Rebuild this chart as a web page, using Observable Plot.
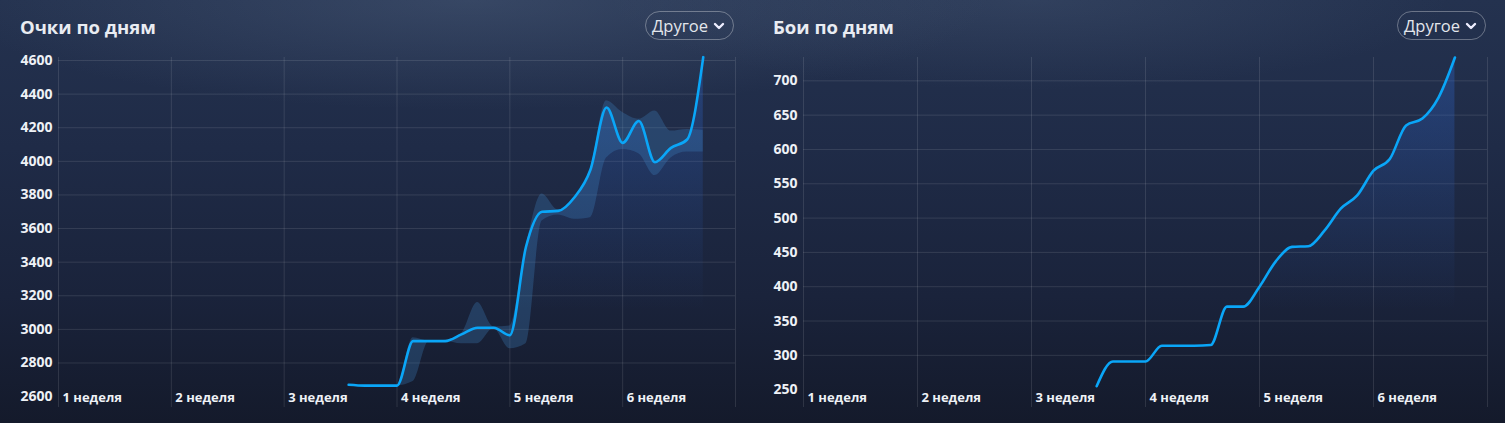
<!DOCTYPE html>
<html><head><meta charset="utf-8">
<script src="https://cdn.jsdelivr.net/npm/d3@7"></script>
<script src="https://cdn.jsdelivr.net/npm/@observablehq/plot@0.6"></script>
<style>
html,body{margin:0;padding:0;width:1505px;height:423px;overflow:hidden;}
body{position:relative;font-family:"Open Sans",sans-serif;
background:
 radial-gradient(ellipse 520px 110px at 470px 0px, rgba(95,115,145,0.32), rgba(95,115,145,0) 100%),
 radial-gradient(ellipse 420px 90px at 1030px 0px, rgba(95,115,145,0.22), rgba(95,115,145,0) 100%),
 linear-gradient(180deg,#24324f 0%,#1f2b47 35%,#1a233b 70%,#141a2b 100%);}
.title{position:absolute;top:14px;font-weight:700;font-size:18.5px;line-height:26px;color:#e9ecf2;}
.dd{position:absolute;top:11px;height:29px;width:89px;border:1px solid rgba(255,255,255,0.32);border-radius:15px;box-sizing:border-box;color:#e3e6ec;font-size:16.5px;display:flex;align-items:center;padding-left:6px;gap:5px;}
.chart{position:absolute;top:0;}
</style></head>
<body>
<div class="title" style="left:20px">Очки по дням</div>
<div class="dd" style="left:645px"><span>Другое</span><svg width="12" height="8" viewBox="0 0 12 8"><path d="M2 2 L6 6 L10 2" stroke="#eef" stroke-width="2.4" fill="none" stroke-linecap="round" stroke-linejoin="round"/></svg></div>
<div class="title" style="left:773px">Бои по дням</div>
<div class="dd" style="left:1397px"><span>Другое</span><svg width="12" height="8" viewBox="0 0 12 8"><path d="M2 2 L6 6 L10 2" stroke="#eef" stroke-width="2.4" fill="none" stroke-linecap="round" stroke-linejoin="round"/></svg></div>
<div id="left" class="chart" style="left:0px"></div>
<div id="right" class="chart" style="left:750px"></div>
<script>
// Days (day index from start of week 1)
const days = [18,19,20,21,22,23,24,25,26,27,28,29,30,31,32,33,34,35,36,37,38,39,40];
// Points per day
const points = [2670,2665,2665,2665,2930,2930,2930,2970,3010,3010,2965,3490,3700,3705,3785,3950,4320,4110,4240,3995,4080,4130,4620];
const pointsBandLow = [2670,2665,2665,2665,2690,2930,2930,2915,2915,3005,2885,2915,3645,3680,3655,3665,4020,4070,4045,3915,4020,4055,4055];
const pointsBandHigh = [2670,2665,2665,2665,2950,2930,2935,2975,3160,3015,3020,3490,3805,3710,3785,3950,4360,4290,4250,4300,4180,4190,4185];
// Battles per day
const battles = [255,291,291,291,314,314,314,315,371,371,400,437,458,459,482,514,533,569,586,635,645,676,734];

const weekStarts = [0,7,14,21,28,35,42];
const weekLabels = ["1 неделя","2 неделя","3 неделя","4 неделя","5 неделя","6 неделя"];
const pointsTicks = [2600,2800,3000,3200,3400,3600,3800,4000,4200,4400,4600];
const battlesTicks = [250,300,350,400,450,500,550,600,650,700];
const pointsDomain = [2535,4618];
const battlesDomain = [224,734];

const LINE = "#0aa6f8";

function gradDefs(id) {
  return () => {
    const ns = "http://www.w3.org/2000/svg";
    const d = document.createElementNS(ns, "defs");
    d.innerHTML = `<linearGradient id="${id}" gradientUnits="userSpaceOnUse" x1="0" x2="0" y1="57" y2="310">
      <stop offset="0" stop-color="#2d63c8" stop-opacity="0.38"/>
      <stop offset="0.55" stop-color="#2d63c8" stop-opacity="0.16"/>
      <stop offset="1" stop-color="#2d63c8" stop-opacity="0"/></linearGradient>`;
    return d;
  };
}

function makeChart({width, marginLeft, marginRight, domain, ticks, values, low, high, gid}) {
  const rows = days.map((d, i) => ({day: d, v: values[i], lo: low ? low[i] : null, hi: high ? high[i] : null}));
  const marks = [
    gradDefs(gid),
    Plot.ruleY(ticks.slice(1), {stroke: "#ffffff", strokeOpacity: 0.11}),
    Plot.ruleX(weekStarts, {stroke: "#ffffff", strokeOpacity: 0.11}),
    Plot.areaY(rows, {x: "day", y1: domain[0], y2: "v", fill: `url(#${gid})`, curve: "monotone-x"})
  ];
  if (low) marks.push(Plot.areaY(rows, {x: "day", y1: "lo", y2: "hi", fill: "#3f88c8", fillOpacity: 0.28, curve: "monotone-x"}));
  marks.push(
    Plot.lineY(rows, {x: "day", y: "v", stroke: LINE, strokeWidth: 2.6, curve: "monotone-x"}),
    Plot.axisY({ticks, tickSize: 0, tickPadding: 6, tickFormat: d => String(d), label: null, fontSize: 14, fontWeight: 700, fill: "#eef1f6"}),
    Plot.text(weekLabels, {x: weekStarts.slice(0, 6), frameAnchor: "bottom", dy: -6, dx: 4, textAnchor: "start", fontSize: 13, fontWeight: 700, fill: "#eef1f6"})
  );
  return Plot.plot({
    width, height: 423, marginLeft, marginRight, marginTop: 57, marginBottom: 16,
    x: {domain: [0, 42], axis: null},
    y: {domain, axis: null},
    style: {background: "transparent", color: "#eef1f6", fontFamily: "'Open Sans', sans-serif", overflow: "visible"},
    marks
  });
}

document.getElementById("left").append(makeChart({
  width: 750, marginLeft: 58, marginRight: 15, domain: pointsDomain, ticks: pointsTicks,
  values: points, low: pointsBandLow, high: pointsBandHigh, gid: "gl"
}));
document.getElementById("right").append(makeChart({
  width: 755, marginLeft: 53, marginRight: 18, domain: battlesDomain, ticks: battlesTicks,
  values: battles, gid: "gr"
}));
</script>
</body></html>
